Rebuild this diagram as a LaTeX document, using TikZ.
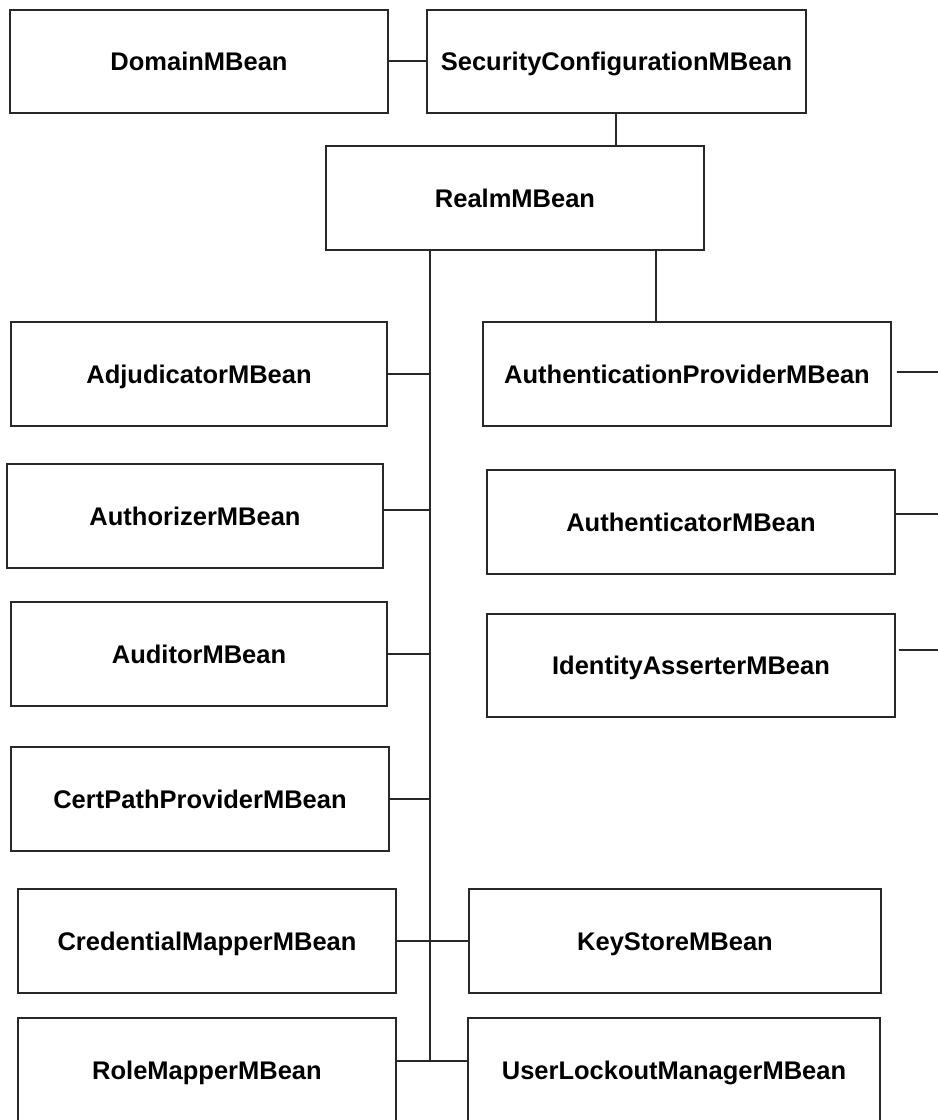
\documentclass[tikz,border=0pt]{standalone}
\usepackage{fontspec}
\setmainfont{Liberation Sans}
\definecolor{linec}{RGB}{40,40,40}
\begin{document}
\begin{tikzpicture}[x=1bp,y=-1bp,
  mbean/.style={draw=linec, line width=1.8bp, fill=white, inner sep=0pt,
    minimum height=104bp, text height=18bp, text depth=0pt,
    font=\fontsize{25.5bp}{30bp}\selectfont\bfseries, text=black},
  lwide/.style={minimum width=378bp},
  rwide/.style={minimum width=408bp},
  link/.style={draw=linec, line width=1.8bp}]
\useasboundingbox (0,0) rectangle (938,1120);
\clip (0,0) rectangle (938,1120);
\fill[white] (0,0) rectangle (938,1120);

% boxes
\node[mbean, lwide, minimum height=103bp] (domain) at (199,61.5) {DomainMBean};
\node[mbean, minimum width=379bp, minimum height=103bp] (sec) at (616.5,61.5) {SecurityConfigurationMBean};
\node[mbean, lwide] (realm) at (515,198) {RealmMBean};
\node[mbean, minimum width=376bp] (adj) at (199,374) {AdjudicatorMBean};
\node[mbean, rwide] (authprov) at (687,374) {AuthenticationProviderMBean};
\node[mbean, minimum width=376bp] (authz) at (195,516) {AuthorizerMBean};
\node[mbean, rwide] (authn) at (691,522) {AuthenticatorMBean};
\node[mbean, minimum width=376bp] (aud) at (199,654) {AuditorMBean};
\node[mbean, rwide, minimum height=103bp] (ident) at (691,665.5) {IdentityAsserterMBean};
\node[mbean, lwide] (cert) at (200,799) {CertPathProviderMBean};
\node[mbean, lwide] (cred) at (207,941) {CredentialMapperMBean};
\node[mbean, minimum width=412bp] (keys) at (675,941) {KeyStoreMBean};
\node[mbean, lwide] (role) at (207,1070) {RoleMapperMBean};
\node[mbean, minimum width=412bp] (user) at (674,1070) {UserLockoutManagerMBean};

% trunk coordinates
\path (realm.south) ++(-85,0) coordinate (trunkTop);
\coordinate (trunkBot) at (430,1061);
\path (realm.south) ++(141,0) coordinate (apTop);
\coordinate (r1) at (940,372);
\coordinate (r2) at (940,514);
\coordinate (r3) at (940,650);

% connectors
\draw[link] ([yshift=0.5bp]domain.east) -- ([yshift=0.5bp]sec.west);
\draw[link] ([xshift=-0.5bp]sec.south) -- ([xshift=-0.5bp]sec.south |- realm.north);
\draw[link] (trunkTop) -- (trunkBot);
\draw[link] (apTop) -- (apTop |- authprov.north);
\draw[link] (adj.east) -- (adj.east -| trunkTop);
\draw[link] ([yshift=6bp]authz.east) -- ([yshift=6bp]authz.east -| trunkTop);
\draw[link] (aud.east) -- (aud.east -| trunkTop);
\draw[link] (cert.east) -- (cert.east -| trunkTop);
\draw[link] (cred.east) -- (keys.west);
\draw[link] (trunkBot -| role.east) -- (trunkBot -| user.west);
\draw[link] ([xshift=5bp,yshift=2bp]authprov.east) -- (r1);
\draw[link] ([yshift=8bp]authn.east) -- (r2);
\draw[link] ([xshift=3bp,yshift=15.5bp]ident.east) -- (r3);
\end{tikzpicture}
\end{document}
